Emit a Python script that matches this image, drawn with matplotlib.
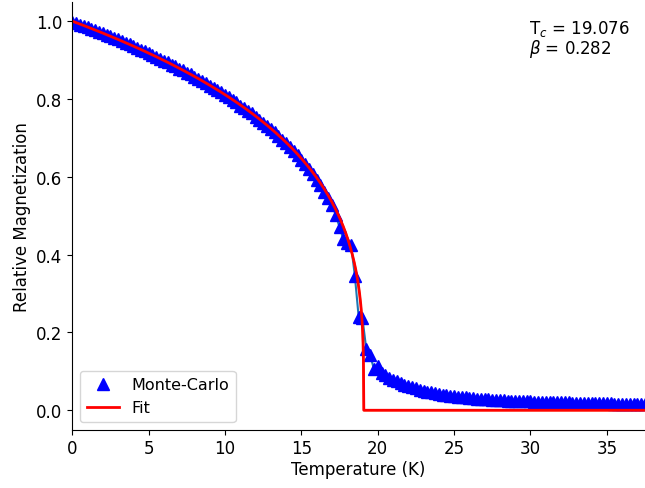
import numpy as np
import matplotlib
matplotlib.use("Agg")
import matplotlib.pyplot as plt

# Parametros do ajuste
Tc = 19.076
beta = 0.282

# Dados Monte-Carlo: temperatura (K) e magnetizacao relativa
temperatura = np.arange(0, 37.51, 0.25)
magnetizacao = [
    0.997, 0.995, 0.991, 0.988,   # 0 K
    0.984, 0.980, 0.977, 0.972,   # 1 K
    0.969, 0.965, 0.961, 0.956,   # 2 K
    0.953, 0.948, 0.944, 0.940,   # 3 K
    0.935, 0.931, 0.926, 0.922,   # 4 K
    0.917, 0.913, 0.908, 0.903,   # 5 K
    0.898, 0.894, 0.888, 0.884,   # 6 K
    0.878, 0.874, 0.868, 0.863,   # 7 K
    0.857, 0.852, 0.846, 0.841,   # 8 K
    0.834, 0.829, 0.822, 0.817,   # 9 K
    0.810, 0.804, 0.797, 0.791,   # 10 K
    0.783, 0.777, 0.769, 0.763,   # 11 K
    0.754, 0.747, 0.739, 0.731,   # 12 K
    0.722, 0.714, 0.705, 0.695,   # 13 K
    0.686, 0.676, 0.665, 0.655,   # 14 K
    0.643, 0.632, 0.619, 0.606,   # 15 K
    0.592, 0.578, 0.561, 0.545,   # 16 K
    0.527, 0.502, 0.470, 0.440,   # 17 K
    0.430, 0.425, 0.346, 0.240,   # 18 K
    0.236, 0.157, 0.142, 0.106,   # 19 K
    0.113, 0.097, 0.090, 0.084,   # 20 K
    0.079, 0.074, 0.070, 0.066,   # 21 K
    0.062, 0.059, 0.056, 0.053,   # 22 K
    0.050, 0.048, 0.046, 0.044,   # 23 K
    0.042, 0.040, 0.039, 0.037,   # 24 K
    0.036, 0.035, 0.034, 0.033,   # 25 K
    0.032, 0.031, 0.030, 0.029,   # 26 K
    0.028, 0.028, 0.027, 0.027,   # 27 K
    0.026, 0.026, 0.025, 0.025,   # 28 K
    0.024, 0.024, 0.023, 0.023,   # 29 K
    0.023, 0.022, 0.022, 0.022,   # 30 K
    0.021, 0.021, 0.021, 0.020,   # 31 K
    0.020, 0.020, 0.020, 0.019,   # 32 K
    0.019, 0.019, 0.019, 0.019,   # 33 K
    0.018, 0.018, 0.018, 0.018,   # 34 K
    0.018, 0.018, 0.017, 0.017,   # 35 K
    0.017, 0.017, 0.017, 0.017,   # 36 K
    0.017, 0.016, 0.016,          # 37 K
]

# Curva do ajuste M = (1 - T/Tc)^beta
def ajuste(T):
    base = np.clip(1 - T / Tc, 0, None)
    return base ** beta

T_fino = np.linspace(0, 37.5, 1500)

fig = plt.figure(figsize=(6.45, 4.89), dpi=100)
ax = fig.add_axes([0.1121, 0.1192, 0.8879, 0.8753])

ax.plot(temperatura, magnetizacao, color="C0", lw=1.5)
ax.plot(T_fino, ajuste(T_fino), color="C1", lw=1.5)
ax.plot(temperatura, magnetizacao, "^", color="blue", ms=8, label="Monte-Carlo")
ax.plot(T_fino, ajuste(T_fino), color="red", lw=2, label="Fit")

ax.text(29.9, 1.008, "T$_c$ = %.3f\n$\\beta$ = %.3f" % (Tc, beta),
        fontsize=12, va="top", linespacing=0.95)

ax.set_xlim(0, 37.5)
ax.set_ylim(-0.05, 1.05)
ax.set_xlabel("Temperature (K)", fontsize=12, labelpad=2)
ax.set_ylabel("Relative Magnetization", fontsize=12)
ax.tick_params(labelsize=12)
ax.spines["top"].set_visible(False)
ax.spines["right"].set_visible(False)
ax.legend(loc="lower left", fontsize=11.5)

fig.savefig("out.png", dpi=100)
